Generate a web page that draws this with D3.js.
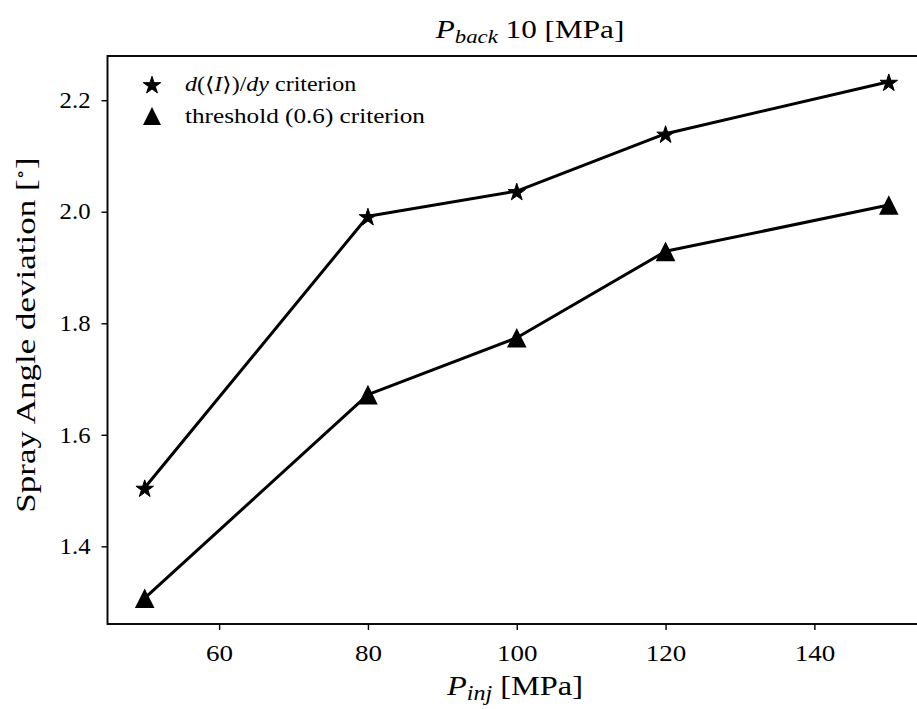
<!DOCTYPE html>
<html>
<head>
<meta charset="utf-8">
<script src="https://cdn.jsdelivr.net/npm/d3@7"></script>
<style>
  html, body { margin: 0; padding: 0; background: #fff; }
  svg { display: block; }
  svg text { font-family: "Liberation Serif", "DejaVu Serif", serif !important; fill: #000; }
</style>
</head>
<body>
<svg id="chart" width="917" height="709"></svg>
<script>
// Injection pressure [MPa]
const pInj = [50, 80, 100, 120, 150];
// Spray angle deviation [deg], derivative-based criterion
const derivCriterion = [1.505, 1.992, 2.037, 2.140, 2.233];
// Spray angle deviation [deg], threshold (0.6) criterion
const thresholdCriterion = [1.307, 1.672, 1.774, 1.929, 2.012];
const xTicks = [60, 80, 100, 120, 140];
const yTicks = [1.4, 1.6, 1.8, 2.0, 2.2];

const FONT = '"Liberation Serif", "DejaVu Serif", serif';
const WIDEN = 1.2; // horizontal stretch giving the wide serif look

const svg = d3.select("#chart");
const margin = { left: 107.5, top: 56, right: 926, bottom: 624 };

// axes domains padded by 5% of the data span on each side
const xPad = (d3.max(pInj) - d3.min(pInj)) * 0.05;
const allY = derivCriterion.concat(thresholdCriterion);
const yPad = (d3.max(allY) - d3.min(allY)) * 0.05;

const x = d3.scaleLinear()
  .domain([d3.min(pInj) - xPad, d3.max(pInj) + xPad])
  .range([margin.left, margin.right]);
const y = d3.scaleLinear()
  .domain([d3.min(allY) - yPad, d3.max(allY) + yPad])
  .range([margin.bottom, margin.top]);

// axes
const xAxis = svg.append("g")
  .attr("transform", `translate(0,${margin.bottom})`)
  .call(d3.axisBottom(x).tickValues(xTicks).tickFormat(d3.format("d")).tickSize(6).tickPadding(15).tickSizeOuter(0));
const yAxis = svg.append("g")
  .attr("transform", `translate(${margin.left},0)`)
  .call(d3.axisLeft(y).tickValues(yTicks).tickFormat(d3.format(".1f")).tickSize(6).tickPadding(11).tickSizeOuter(0));
[xAxis, yAxis].forEach(g => {
  g.attr("font-family", FONT).attr("font-size", 22.5);
  g.select(".domain").remove();
  g.selectAll(".tick line").attr("stroke", "#000").attr("stroke-width", 1.4);
});
// widen tick labels about their anchor
xAxis.selectAll(".tick text").attr("transform", `scale(${WIDEN},1)`);
yAxis.selectAll(".tick text").each(function () {
  const t = d3.select(this);
  const xx = +t.attr("x");
  t.attr("transform", `translate(${xx},0) scale(1.1,1) translate(${-xx},0)`);
});

// frame
svg.append("rect")
  .attr("x", margin.left).attr("y", margin.top)
  .attr("width", margin.right - margin.left)
  .attr("height", margin.bottom - margin.top)
  .attr("fill", "none").attr("stroke", "#000").attr("stroke-width", 1.9);

// marker shapes
const star = d3.symbol().type(d3.symbolStar).size(95);
function trianglePath(h) {
  return `M0,${-h}L${h},${h}L${-h},${h}Z`;
}

const line = d3.line().x((d, i) => x(pInj[i])).y(d => y(d));

const plot = svg.append("g");
[derivCriterion, thresholdCriterion].forEach(series => {
  plot.append("path").datum(series)
    .attr("d", line).attr("fill", "none").attr("stroke", "#000").attr("stroke-width", 3)
    .attr("stroke-linejoin", "round");
});

plot.selectAll(".star").data(derivCriterion).join("path")
  .attr("class", "star")
  .attr("d", star)
  .attr("transform", (d, i) => `translate(${x(pInj[i])},${y(d) + 1.3})`)
  .attr("fill", "#000").attr("stroke", "#000").attr("stroke-width", 1);
plot.selectAll(".tri").data(thresholdCriterion).join("path")
  .attr("class", "tri")
  .attr("d", trianglePath(9.8))
  .attr("transform", (d, i) => `translate(${x(pInj[i])},${y(d)})`)
  .attr("fill", "#000");

// text helper: a group at (tx,ty), optionally rotated, stretched horizontally
function label(tx, ty, rot, size, anchor, widen) {
  return svg.append("g")
    .attr("transform", `translate(${tx},${ty}) rotate(${rot}) scale(${widen || WIDEN},1)`)
    .append("text").attr("text-anchor", anchor).attr("font-size", size);
}

// legend
const legend = svg.append("g");
legend.append("path").attr("d", star).attr("transform", "translate(152,85.5)").attr("fill", "#000").attr("stroke", "#000").attr("stroke-width", 1);
legend.append("path").attr("d", trianglePath(9)).attr("transform", "translate(152,116)").attr("fill", "#000");
const l1 = label(185, 91, 0, 20, "start", 1.2);
l1.append("tspan").attr("font-style", "italic").text("d");
l1.append("tspan").text("(⟨");
l1.append("tspan").attr("font-style", "italic").text("I");
l1.append("tspan").text("⟩)/");
l1.append("tspan").attr("font-style", "italic").text("dy");
l1.append("tspan").text(" criterion");
label(185, 123, 0, 20, "start", 1.26).text("threshold (0.6) criterion");

// title
const title = label(530, 38, 0, 26, "middle");
title.append("tspan").attr("font-style", "italic").text("P");
title.append("tspan").attr("font-style", "italic").attr("dy", 5).attr("font-size", 19).text("back");
title.append("tspan").attr("dy", -5).text(" 10 [MPa]");

// x label
const xl = label(515, 695, 0, 27, "middle");
xl.append("tspan").attr("font-style", "italic").text("P");
xl.append("tspan").attr("font-style", "italic").attr("dy", 5).attr("font-size", 20).text("inj");
xl.append("tspan").attr("dy", -5).text(" [MPa]");

// y label
const yl = label(35, 335, -90, 28, "middle", 1.25);
yl.append("tspan").text("Spray Angle deviation [");
yl.append("tspan").attr("dy", -9).attr("font-size", 17).text("∘");
yl.append("tspan").attr("dy", 9).text("]");
</script>
</body>
</html>
